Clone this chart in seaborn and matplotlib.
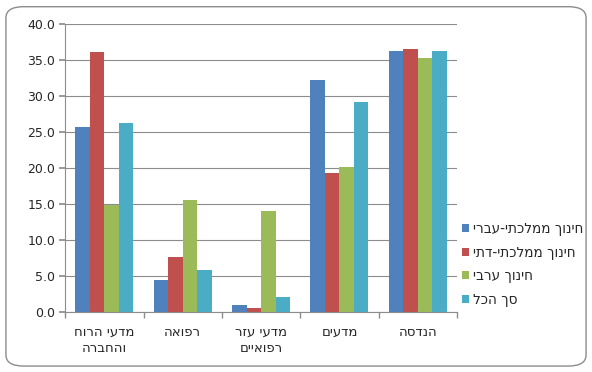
import numpy as np
import pandas as pd
import matplotlib
matplotlib.use("Agg")
import matplotlib.pyplot as plt
import seaborn as sns
from matplotlib.patches import FancyBboxPatch
from matplotlib.ticker import FixedLocator, FormatStrFormatter

# data (logical Hebrew order; reversed for display since matplotlib has no bidi)
categories = ["מדעי הרוח\nוהחברה", "רפואה", "מדעי עזר\nרפואיים", "מדעים", "הנדסה"]
series = ["חינוך ממלכתי-עברי", "חינוך ממלכתי-דתי", "חינוך ערבי", "סך הכל"]
hebrew_state = [25.7, 4.4, 0.9, 32.2, 36.3]
religious_state = [36.1, 7.6, 0.5, 19.3, 36.5]
arab = [14.8, 15.5, 14.0, 20.2, 35.3]
total = [26.2, 5.8, 2.0, 29.2, 36.3]
colors = ["#4F81BD", "#C0504D", "#9BBB59", "#4BACC6"]


def rtl(s):
    return "\n".join(line[::-1] for line in s.split("\n"))


sns.set_theme(style="white")
plt.rcParams["font.family"] = ["DejaVu Sans"]

cat_disp = [rtl(c) for c in categories]
ser_disp = [rtl(s) for s in series]
df = pd.DataFrame({
    "cat": np.tile(cat_disp, 4),
    "series": np.repeat(ser_disp, 5),
    "value": hebrew_state + religious_state + arab + total,
})

fig = plt.figure(figsize=(5.92, 3.72), dpi=100)
ax = fig.add_axes([0.110, 0.162, 0.662, 0.773])

sns.barplot(data=df, x="cat", y="value", hue="series", order=cat_disp,
            hue_order=ser_disp, palette=colors, saturation=1, width=0.74,
            gap=0, linewidth=0, ax=ax, legend=True)

ax.set_ylim(0, 40)
ax.set_xlim(-0.5, 4.5)
ax.yaxis.set_major_locator(FixedLocator(np.arange(0, 41, 5)))
ax.yaxis.set_major_formatter(FormatStrFormatter("%.1f"))
ax.grid(axis="y", color="#8c8c8c", linewidth=0.8)
ax.set_axisbelow(True)
for s in ["top", "right"]:
    ax.spines[s].set_visible(False)
for s in ["left", "bottom"]:
    ax.spines[s].set_color("#8c8c8c")
    ax.spines[s].set_linewidth(0.8)
ax.set_xlabel("")
ax.set_ylabel("")
ax.tick_params(axis="y", left=True, length=4, color="#8c8c8c", labelsize=9, pad=3)
ax.tick_params(axis="x", bottom=False, labelsize=9.5, pad=4)
for lbl in ax.get_xticklabels():
    lbl.set_linespacing(1.35)
ax.set_xticks(np.arange(-0.5, 5, 1), minor=True)
ax.tick_params(axis="x", which="minor", bottom=True, length=4, color="#8c8c8c")

ax.legend(loc="center left", bbox_to_anchor=(1.0, 0.165), frameon=False,
          handlelength=0.5, handleheight=0.5, borderpad=0.4,
          handletextpad=0.3, labelspacing=0.7, fontsize=9.8, borderaxespad=0)

fig.patches.append(FancyBboxPatch((0.010, 0.016), 0.980, 0.966,
                                  boxstyle="round,pad=0,rounding_size=0.03",
                                  transform=fig.transFigure, fill=False,
                                  edgecolor="#8c8c8c", linewidth=1))

fig.savefig("out.png", dpi=100)
